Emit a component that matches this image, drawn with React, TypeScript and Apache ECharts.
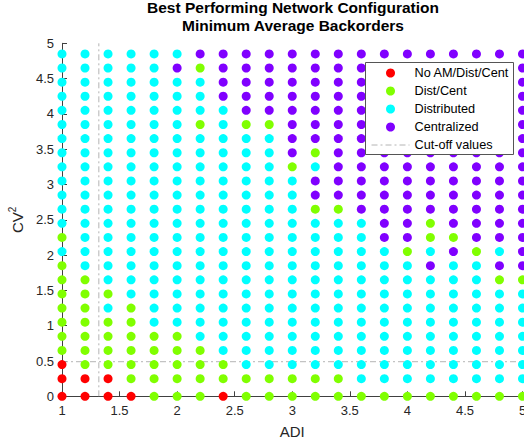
import React, { useEffect, useRef } from "react";
import * as echarts from "echarts";

// ADI values (x grid) and CV^2 values (y grid)
const ADI_VALUES = [1.0, 1.2, 1.4, 1.6, 1.8, 2.0, 2.2, 2.4, 2.6, 2.8, 3.0, 3.2, 3.4, 3.6, 3.8, 4.0, 4.2, 4.4, 4.6, 4.8, 5.0];
const CV2_VALUES = [0, 0.25, 0.45, 0.65, 0.85, 1.05, 1.25, 1.45, 1.65, 1.85, 2.05, 2.25, 2.45, 2.65, 2.85, 3.05, 3.25, 3.45, 3.65, 3.85, 4.05, 4.25, 4.45, 4.65, 4.85];

const CLASS_NAMES = ["No AM/Dist/Cent", "Dist/Cent", "Distributed", "Centralized"];
const CLASS_CODES = ["R", "G", "C", "P"];
const CLASS_COLORS = ["#ff0000", "#80ff00", "#00ffff", "#8000ff"];

// Best configuration per grid cell; one row per CV^2 value (bottom to top), one char per ADI value
const BEST_CONFIG_ROWS = [
  "RRRRGGGRGGGGGGGGGGGGG",
  "RRRGGGGGGGGGGCCCCCCCC",
  "RGGGGGGGCCCCCCCCCCCCC",
  "GGGGGGGCCCCCCCCCCCCCC",
  "GGGGGGCCCCCCCCCCCCCCC",
  "GGGGCCCCCCCCCCCCCCCCC",
  "GGCGCCCCCCCCCCCCCCCCC",
  "GGGCCCCCCCCCCCCCCCCCC",
  "GGCCCCCCCCCCCCCCCCCGG",
  "GCCCCCCCCCCCCCCCPCCPP",
  "CCCCCCCCCCCCCCCGCPGCP",
  "GCCCCCCCCCCCCCPPGGPPP",
  "CCCCCCCCCCCCCCPPGPPPP",
  "CCCCCCCCCCCGGPPPPPPPP",
  "CCCCCCCCCCCPPPPPPPPPP",
  "CCCCCCCCCCCPPPPPPPPPP",
  "CCCCCCCCCCGCPPPPPPPPP",
  "CCCCCCCCCCPGPPPPPPPPP",
  "CCCCCCCCCCPPPPPPPPPPP",
  "CCCCCCGCGGPPPPPPPPPPP",
  "CCCCCCCCPPPPPPPPPPPPP",
  "CCCCCCCPPPPPPPPPPPPPP",
  "CCCCCCCPPPPPPPPPPPPPP",
  "CCCCCPGPPPPPPPPPPPPPP",
  "CCCCCCPPPPPPPPPPPPPPP",
];

const ADI_CUTOFF = 1.32;
const CV2_CUTOFF = 0.49;
const X_MIN = 1;
const X_MAX = 5;
const Y_MIN = 0;
const Y_MAX = 5;
const TICK_STEP = 0.5;

const CUTOFF_NAME = "Cut-off values";
const FONT = '"Liberation Sans", Arial, Helvetica, sans-serif';

export default function App() {
  const ref = useRef<HTMLDivElement>(null);

  useEffect(() => {
    if (!ref.current) return;
    const chart = echarts.init(ref.current, null, { renderer: "svg" });

    const scatterSeries = CLASS_NAMES.map((name, k) => {
      const data: number[][] = [];
      BEST_CONFIG_ROWS.forEach((row, r) => {
        for (let c = 0; c < row.length; c++) {
          if (row[c] === CLASS_CODES[k]) data.push([ADI_VALUES[c], CV2_VALUES[r]]);
        }
      });
      return {
        type: "scatter",
        name,
        data,
        symbol: "circle",
        symbolSize: 9,
        itemStyle: { color: CLASS_COLORS[k], opacity: 1 },
        z: 3,
        silent: true,
      };
    });

    const cutoffStyle = { color: "#b4b4b4", width: 1, type: [6, 3, 2, 3] };
    const cutoffSeries = [
      {
        type: "line",
        name: CUTOFF_NAME,
        data: [[ADI_CUTOFF, Y_MIN], [ADI_CUTOFF, Y_MAX]],
        symbol: "none",
        lineStyle: cutoffStyle,
        itemStyle: { color: "#b4b4b4" },
        z: 1,
        silent: true,
      },
      {
        type: "line",
        name: CUTOFF_NAME,
        data: [[X_MIN, CV2_CUTOFF], [X_MAX, CV2_CUTOFF]],
        symbol: "none",
        lineStyle: cutoffStyle,
        itemStyle: { color: "#b4b4b4" },
        z: 1,
        silent: true,
      },
    ];

    const axisCommon = {
      type: "value",
      interval: TICK_STEP,
      nameLocation: "middle",
      axisLine: { show: true, onZero: false, lineStyle: { color: "#404040", width: 1 } },
      axisTick: { show: true, inside: true, length: 5, lineStyle: { color: "#404040", width: 1 } },
      splitLine: { show: false },
    };

    chart.setOption({
      animation: false,
      backgroundColor: "#ffffff",
      grid: { left: 62, right: 1.5, top: 43.3, bottom: 47.7, containLabel: false, outerBoundsMode: "none" },
      graphic: [
        {
          type: "text",
          x: 293,
          y: -1.5,
          style: {
            text: "Best Performing Network Configuration\nMinimum Average Backorders",
            fill: "#000000",
            fontSize: 15.5,
            fontWeight: "bold",
            fontFamily: FONT,
            align: "center",
            verticalAlign: "top",
            lineHeight: 18,
          },
          z: 20,
        },
        {
          type: "rect",
          shape: { x: 365.5, y: 62.5, width: 148, height: 92 },
          style: { fill: "#ffffff", stroke: "#555555", lineWidth: 1 },
          z: 8,
          silent: true,
        },
      ],
      xAxis: {
        ...axisCommon,
        min: X_MIN,
        max: X_MAX,
        name: "ADI",
        nameGap: 28,
        nameTextStyle: { fontSize: 15, color: "#262626", fontFamily: FONT },
        axisLabel: { fontSize: 13, color: "#262626", margin: 8, fontFamily: FONT },
      },
      yAxis: {
        ...axisCommon,
        min: Y_MIN,
        max: Y_MAX,
        name: "{a|CV}{b|2}",
        nameRotate: 90,
        nameGap: 27,
        nameTextStyle: {
          fontSize: 15,
          color: "#262626",
          fontFamily: FONT,
          rich: {
            a: { fontSize: 15, color: "#262626", fontFamily: FONT, lineHeight: 20 },
            b: { fontSize: 10, color: "#262626", fontFamily: FONT, verticalAlign: "top", lineHeight: 20, padding: [0, 0, 8, 0] },
          },
        },
        axisLabel: { fontSize: 13, color: "#262626", margin: 8, fontFamily: FONT },
      },
      legend: {
        orient: "vertical",
        left: 365,
        top: 63,
        z: 10,
        data: [
          ...CLASS_NAMES.map((n) => ({ name: n, icon: "circle" })),
          { name: CUTOFF_NAME, itemStyle: { opacity: 0 }, lineStyle: cutoffStyle },
        ],
        itemWidth: 38,
        itemHeight: 9,
        itemGap: 4,
        padding: [3, 5, 3, 6],
        backgroundColor: "transparent",
        borderWidth: 0,
        selectedMode: false,
        textStyle: { fontSize: 12.7, color: "#000000", fontFamily: FONT, lineHeight: 14 },
      },
      series: [...cutoffSeries, ...scatterSeries],
    });

    return () => chart.dispose();
  }, []);

  return (
    <div
      ref={ref}
      style={{ position: "absolute", left: 0, top: 0, width: 524, height: 444 }}
    />
  );
}
